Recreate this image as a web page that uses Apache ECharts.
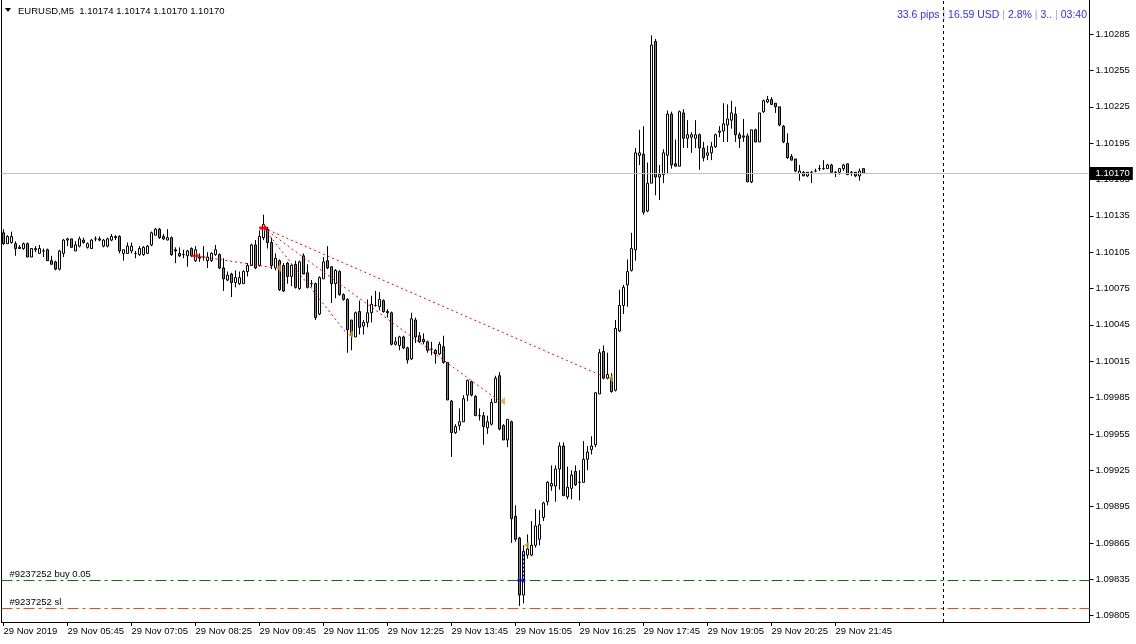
<!DOCTYPE html>
<html>
<head>
<meta charset="utf-8">
<script src="https://cdn.jsdelivr.net/npm/echarts@6/dist/echarts.min.js"></script>
<style>
html,body{margin:0;padding:0;background:#ffffff;}
#chart{width:1136px;height:644px;}
</style>
</head>
<body>
<div id="chart"></div>
<script>
// ---------------- DATA ----------------
const symbolTitle = 'EURUSD,M5';
const headerOHLC = ['1.10174', '1.10174', '1.10170', '1.10170'];
const infoParts = ['33.6 pips', '16.59 USD', '2.8%', '3..', '03:40'];

const firstBarTime = '04:25';
const barMinutes = 5;
const totalSlots = 272;

const xLabelBars = [0, 16, 32, 48, 64, 80, 96, 112, 128, 144, 160, 176, 192, 208];
const xLabelTexts = ['29 Nov 2019', '29 Nov 05:45', '29 Nov 07:05', '29 Nov 08:25', '29 Nov 09:45',
  '29 Nov 11:05', '29 Nov 12:25', '29 Nov 13:45', '29 Nov 15:05', '29 Nov 16:25', '29 Nov 17:45',
  '29 Nov 19:05', '29 Nov 20:25', '29 Nov 21:45'];

const yTicks = [1.09805, 1.09835, 1.09865, 1.09895, 1.09925, 1.09955, 1.09985, 1.10015, 1.10045,
  1.10075, 1.10105, 1.10135, 1.10165, 1.10195, 1.10225, 1.10255, 1.10285];
const yMin = 1.097997;
const yMax = 1.103132;

const open = [
1.10121,1.10112,1.10113,1.10112,1.10109,1.10108,1.10112,1.10101,1.10107,1.10104,
1.10106,1.10107,1.10098,1.10097,1.10091,1.10104,1.10115,1.10116,1.10106,1.10110,
1.10115,1.10109,1.10108,1.10116,1.10116,1.10110,1.10110,1.10115,1.10118,1.10118,
1.10104,1.10104,1.10106,1.10104,1.10103,1.10103,1.10104,1.10111,1.10119,1.10124,
1.10118,1.10115,1.10117,1.10107,1.10104,1.10103,1.10102,1.10108,1.10098,1.10101,
1.10101,1.10098,1.10098,1.10103,1.10103,1.10092,1.10082,1.10087,1.10080,1.10079,
1.10079,1.10089,1.10094,1.10111,1.10094,1.10117,1.10124,1.10113,1.10092,1.10098,
1.10094,1.10096,1.10085,1.10095,1.10075,1.10102,1.10088,1.10079,1.10079,1.10054,
1.10083,1.10098,1.10093,1.10079,1.10089,1.10070,1.10066,1.10049,1.10035,1.10056,
1.10044,1.10047,1.10055,1.10061,1.10060,1.10065,1.10056,1.10055,1.10029,1.10028,
1.10035,1.10026,1.10017,1.10049,1.10036,1.10033,1.10031,1.10025,1.10024,1.10021,
1.10027,1.10014,1.09982,1.09956,1.09962,1.09965,1.09987,1.09998,1.09986,1.09970,
1.09970,1.09960,1.09963,1.09981,1.10003,1.09962,1.09950,1.09965,1.09887,1.09869,
1.09822,1.09855,1.09855,1.09863,1.09868,1.09886,1.09899,1.09912,1.09912,1.09926,
1.09945,1.09903,1.09910,1.09924,1.09915,1.09915,1.09934,1.09942,1.09946,1.09988,
1.10023,1.10001,1.10001,1.09991,1.10040,1.10061,1.10078,1.10090,1.10107,1.10185,
1.10186,1.10139,1.10162,1.10279,1.10167,1.10169,1.10185,1.10219,1.10178,1.10176,
1.10220,1.10199,1.10200,1.10199,1.10202,1.10191,1.10185,1.10187,1.10192,1.10204,
1.10205,1.10210,1.10214,1.10219,1.10202,1.10201,1.10201,1.10163,1.10206,1.10196,
1.10221,1.10229,1.10231,1.10228,1.10225,1.10209,1.10195,1.10184,1.10182,1.10170,
1.10171,1.10168,1.10171,1.10172,1.10174,1.10174,1.10174,1.10177,1.10171,1.10171,
1.10174,1.10178,1.10171,1.10171,1.10168,1.10174];

const high = [
1.10124,1.10119,1.10122,1.10114,1.10111,1.10113,1.10113,1.10108,1.10110,1.10111,
1.10108,1.10108,1.10102,1.10098,1.10107,1.10116,1.10117,1.10116,1.10114,1.10118,
1.10117,1.10113,1.10116,1.10118,1.10118,1.10116,1.10117,1.10120,1.10119,1.10119,
1.10107,1.10113,1.10113,1.10106,1.10110,1.10110,1.10111,1.10122,1.10125,1.10125,
1.10120,1.10124,1.10118,1.10109,1.10109,1.10107,1.10107,1.10109,1.10110,1.10104,
1.10110,1.10105,1.10105,1.10111,1.10104,1.10100,1.10089,1.10088,1.10090,1.10089,
1.10090,1.10096,1.10112,1.10115,1.10123,1.10136,1.10126,1.10117,1.10104,1.10099,
1.10096,1.10097,1.10095,1.10098,1.10098,1.10104,1.10095,1.10082,1.10080,1.10085,
1.10101,1.10110,1.10093,1.10091,1.10090,1.10071,1.10067,1.10049,1.10056,1.10065,
1.10049,1.10066,1.10069,1.10073,1.10072,1.10066,1.10058,1.10056,1.10035,1.10036,
1.10036,1.10027,1.10055,1.10051,1.10039,1.10038,1.10032,1.10031,1.10025,1.10031,
1.10036,1.10014,1.09983,1.09963,1.09976,1.09987,1.10000,1.09999,1.09987,1.09976,
1.09973,1.09970,1.09984,1.10003,1.10006,1.09963,1.09967,1.09966,1.09896,1.09870,
1.09863,1.09872,1.09883,1.09893,1.09892,1.09899,1.09916,1.09929,1.09929,1.09948,
1.09948,1.09928,1.09925,1.09929,1.09925,1.09949,1.09945,1.09953,1.09989,1.10025,
1.10028,1.10022,1.10005,1.10049,1.10074,1.10078,1.10099,1.10121,1.10191,1.10206,
1.10209,1.10179,1.10284,1.10281,1.10177,1.10190,1.10222,1.10221,1.10198,1.10222,
1.10223,1.10214,1.10204,1.10214,1.10203,1.10196,1.10193,1.10196,1.10203,1.10209,
1.10228,1.10227,1.10230,1.10225,1.10204,1.10215,1.10203,1.10206,1.10207,1.10220,
1.10231,1.10234,1.10233,1.10228,1.10225,1.10210,1.10203,1.10186,1.10182,1.10177,
1.10172,1.10171,1.10172,1.10174,1.10177,1.10181,1.10178,1.10178,1.10172,1.10174,
1.10178,1.10178,1.10172,1.10171,1.10174,1.10174];

const low = [
1.10111,1.10112,1.10112,1.10102,1.10108,1.10107,1.10101,1.10101,1.10105,1.10104,
1.10101,1.10098,1.10095,1.10090,1.10090,1.10101,1.10110,1.10109,1.10106,1.10109,
1.10112,1.10108,1.10108,1.10114,1.10114,1.10109,1.10109,1.10114,1.10115,1.10104,
1.10098,1.10104,1.10104,1.10100,1.10102,1.10102,1.10104,1.10110,1.10119,1.10116,
1.10115,1.10115,1.10102,1.10096,1.10101,1.10100,1.10093,1.10101,1.10097,1.10097,
1.10098,1.10092,1.10097,1.10102,1.10091,1.10073,1.10081,1.10068,1.10076,1.10078,
1.10079,1.10085,1.10094,1.10091,1.10093,1.10115,1.10108,1.10091,1.10090,1.10073,
1.10072,1.10079,1.10077,1.10075,1.10074,1.10087,1.10075,1.10076,1.10049,1.10053,
1.10083,1.10091,1.10063,1.10067,1.10069,1.10065,1.10022,1.10024,1.10035,1.10037,
1.10037,1.10043,1.10047,1.10060,1.10057,1.10055,1.10051,1.10028,1.10028,1.10024,
1.10025,1.10013,1.10016,1.10030,1.10030,1.10029,1.10022,1.10020,1.10013,1.10020,
1.10013,1.09983,1.09936,1.09955,1.09958,1.09965,1.09982,1.09986,1.09970,1.09966,
1.09946,1.09955,1.09962,1.09981,1.09958,1.09950,1.09944,1.09865,1.09866,1.09813,
1.09815,1.09852,1.09854,1.09861,1.09863,1.09883,1.09896,1.09908,1.09899,1.09909,
1.09904,1.09901,1.09901,1.09912,1.09900,1.09915,1.09925,1.09938,1.09944,1.09988,
1.10000,1.10000,1.09989,1.09990,1.10039,1.10054,1.10060,1.10089,1.10098,1.10177,
1.10136,1.10138,1.10162,1.10152,1.10148,1.10162,1.10170,1.10174,1.10176,1.10176,
1.10191,1.10191,1.10187,1.10191,1.10173,1.10180,1.10181,1.10181,1.10191,1.10200,
1.10196,1.10196,1.10207,1.10196,1.10191,1.10196,1.10163,1.10162,1.10196,1.10196,
1.10220,1.10228,1.10227,1.10220,1.10209,1.10195,1.10182,1.10181,1.10171,1.10164,
1.10168,1.10167,1.10162,1.10171,1.10172,1.10173,1.10174,1.10171,1.10167,1.10169,
1.10172,1.10169,1.10168,1.10167,1.10164,1.10170];

const close = [
1.10112,1.10118,1.10118,1.10108,1.10108,1.10112,1.10101,1.10108,1.10108,1.10108,
1.10106,1.10098,1.10095,1.10091,1.10106,1.10115,1.10116,1.10109,1.10111,1.10116,
1.10113,1.10112,1.10115,1.10116,1.10115,1.10115,1.10116,1.10118,1.10117,1.10106,
1.10107,1.10110,1.10110,1.10104,1.10108,1.10109,1.10110,1.10121,1.10124,1.10117,
1.10116,1.10117,1.10103,1.10106,1.10102,1.10103,1.10106,1.10102,1.10107,1.10100,
1.10101,1.10101,1.10104,1.10107,1.10092,1.10083,1.10086,1.10080,1.10084,1.10084,
1.10089,1.10094,1.10111,1.10092,1.10118,1.10128,1.10113,1.10094,1.10100,1.10074,
1.10073,1.10085,1.10094,1.10076,1.10097,1.10087,1.10076,1.10079,1.10051,1.10084,
1.10097,1.10092,1.10079,1.10090,1.10070,1.10066,1.10041,1.10036,1.10055,1.10043,
1.10047,1.10055,1.10062,1.10061,1.10066,1.10056,1.10055,1.10029,1.10031,1.10035,
1.10026,1.10016,1.10050,1.10035,1.10031,1.10031,1.10024,1.10025,1.10021,1.10029,
1.10014,1.09983,1.09956,1.09961,1.09965,1.09984,1.09999,1.09987,1.09970,1.09970,
1.09961,1.09965,1.09981,1.10001,1.09959,1.09950,1.09967,1.09885,1.09868,1.09822,
1.09858,1.09860,1.09863,1.09879,1.09880,1.09898,1.09915,1.09914,1.09926,1.09945,
1.09904,1.09911,1.09921,1.09913,1.09915,1.09934,1.09940,1.09945,1.09989,1.10022,
1.10001,1.10004,1.09990,1.10042,1.10061,1.10076,1.10089,1.10108,1.10187,1.10187,
1.10138,1.10162,1.10276,1.10167,1.10169,1.10187,1.10219,1.10177,1.10176,1.10221,
1.10199,1.10202,1.10202,1.10202,1.10191,1.10183,1.10187,1.10192,1.10202,1.10205,
1.10211,1.10215,1.10220,1.10202,1.10199,1.10200,1.10163,1.10206,1.10196,1.10220,
1.10230,1.10231,1.10227,1.10225,1.10210,1.10196,1.10183,1.10181,1.10172,1.10172,
1.10168,1.10171,1.10171,1.10172,1.10174,1.10174,1.10177,1.10171,1.10171,1.10174,
1.10177,1.10169,1.10171,1.10168,1.10172,1.10170];

// closed trades: [openBar, openPrice, closeBar, closePrice]
const sellTrades = [
  [48, 1.10102, 68, 1.10092],
  [65, 1.10125, 86, 1.10037],
  [65, 1.10125, 124, 1.09982],
  [65, 1.10125, 151, 1.10001]
];
const buyTrades = [
  [130, 1.09834, 130, 1.09863]
];
const currentPrice = 1.10170;
const orderPrice = 1.09834;
const stopPrice = 1.09811;
const orderLabel = '#9237252 buy 0.05';
const stopLabel = '#9237252 sl';
const separatorBar = 235;

// ---------------- BUILD ----------------
const FONT = '"Liberation Sans", Arial, sans-serif';
const FS = 9.5;

const startMin = parseInt(firstBarTime.slice(0, 2)) * 60 + parseInt(firstBarTime.slice(3));
const categories = [];
for (let i = 0; i < totalSlots; i++) {
  const m = startMin + i * barMinutes;
  const hh = String(Math.floor(m / 60) % 24).padStart(2, '0');
  const mm = String(m % 60).padStart(2, '0');
  categories.push(hh + ':' + mm + '#' + i);
}
const labelMap = {};
xLabelBars.forEach((b, k) => { labelMap[b] = xLabelTexts[k]; });

const candleData = open.map((o, i) => [o, close[i], low[i], high[i]]);

const tradeSeries = [];
sellTrades.forEach(t => {
  tradeSeries.push({
    type: 'line', data: [[t[0], t[1]], [t[2], t[3]]], symbol: 'none', silent: true,
    lineStyle: { color: '#ff0000', width: 1, type: [2, 3] }, z: 5, animation: false
  });
});
buyTrades.forEach(t => {
  tradeSeries.push({
    type: 'line', data: [[t[0], t[1]], [t[2], t[3]]], symbol: 'none', silent: true,
    lineStyle: { color: '#0000ff', width: 1, type: [2, 2] }, z: 5, animation: false
  });
});

const arrowPath = 'path://M0,2.5 L4.5,2.5 L4.5,0 L8,4 L4.5,8 L4.5,5.5 L0,5.5 Z';
const triLeft = 'path://M0,4 L6,0 L6,8 Z';

const sellOpenPts = sellTrades.map(t => [t[0], t[1]]);
const buyOpenPts = buyTrades.map(t => [t[0], t[1]]);
const closePts = sellTrades.concat(buyTrades).map(t => [t[2], t[3]]);

const chart = echarts.init(document.getElementById('chart'), null, { renderer: 'canvas' });

const lineLabelBase = { show: true, position: 'insideStartTop', color: '#000', distance: [8, 1], fontSize: FS, fontFamily: FONT };

const option = {
  animation: false,
  backgroundColor: '#ffffff',
  grid: { left: 1.5, right: 46.5, top: 0, bottom: 22, containLabel: false },
  xAxis: {
    type: 'category',
    data: categories,
    boundaryGap: true,
    axisLine: { show: true, onZero: false, lineStyle: { color: '#000', width: 1 } },
    axisTick: {
      show: true, alignWithLabel: true, length: 4,
      interval: (idx) => labelMap[idx] !== undefined,
      lineStyle: { color: '#000' }
    },
    axisLabel: {
      show: true,
      interval: (idx) => labelMap[idx] !== undefined,
      formatter: (v, idx) => labelMap[idx] || '',
      align: 'left', padding: [0, 0, 0, 0], margin: 4,
      color: '#000', fontSize: FS, fontFamily: FONT
    },
    splitLine: { show: false }
  },
  yAxis: [{
    type: 'value',
    position: 'right',
    min: yMin, max: yMax,
    axisLine: { show: true, lineStyle: { color: '#000', width: 1 } },
    axisTick: { show: true, length: 4, customValues: yTicks, lineStyle: { color: '#000' } },
    axisLabel: {
      show: true, customValues: yTicks, formatter: (v) => v.toFixed(5),
      margin: 6, color: '#000', fontSize: FS, fontFamily: FONT
    },
    splitLine: { show: false }
  }, {
    type: 'value',
    position: 'left',
    min: yMin, max: yMax,
    axisLine: { show: true, lineStyle: { color: '#000', width: 1 } },
    axisTick: { show: false }, axisLabel: { show: false }, splitLine: { show: false }
  }],
  series: [
    {
      type: 'line', data: [], silent: true, z: 2, animation: false,
      markLine: {
        silent: true, symbol: ['none', 'none'], animation: false, precision: 6,
        data: [
          { yAxis: currentPrice, lineStyle: { color: '#c0c0c0', type: 'solid', width: 1 },
            label: { show: true, position: 'end', formatter: currentPrice.toFixed(5), color: '#fff',
              backgroundColor: '#000', padding: [2, 3, 1, 6], distance: 0, fontSize: FS, fontFamily: FONT } },
          { yAxis: orderPrice, lineStyle: { color: '#008000', type: [11, 4, 3, 4], width: 1 },
            label: Object.assign({ formatter: orderLabel }, lineLabelBase) },
          { yAxis: stopPrice, lineStyle: { color: '#ff4500', type: [11, 4, 3, 4], width: 1 },
            label: Object.assign({ formatter: stopLabel }, lineLabelBase) },
          { xAxis: separatorBar, lineStyle: { color: '#000', type: [3, 3], width: 1 },
            label: { show: false } }
        ]
      }
    },
    {
      type: 'candlestick',
      data: candleData,
      barWidth: 2,
      itemStyle: {
        color: '#ffffff', color0: '#808080',
        borderColor: '#000000', borderColor0: '#000000', borderColorDoji: '#000000',
        borderWidth: 1
      },
      z: 3
    },
    ...tradeSeries,
    {
      type: 'scatter', data: sellOpenPts, symbol: arrowPath, symbolSize: [8, 7],
      itemStyle: { color: '#ff0000' }, z: 6, silent: true, animation: false
    },
    {
      type: 'scatter', data: buyOpenPts, symbol: arrowPath, symbolSize: [8, 7], symbolOffset: [-2, 0],
      itemStyle: { color: '#0000ff' }, z: 7, silent: true, animation: false
    },
    {
      type: 'scatter', data: closePts, symbol: triLeft, symbolSize: [5, 8], symbolOffset: [3, 0],
      itemStyle: { color: '#daa520' }, z: 6, silent: true, animation: false
    }
  ],
  graphic: [
    { type: 'polygon', shape: { points: [[5, 8], [11, 8], [8, 12]] }, style: { fill: '#000' }, silent: true },
    { type: 'text', x: 18, y: 11, silent: true,
      style: { text: symbolTitle + '  ' + headerOHLC.join(' '), fill: '#000', fontSize: FS, fontFamily: FONT,
        verticalAlign: 'middle', align: 'left' } },
    { type: 'text', x: 1087, y: 15, silent: true,
      style: {
        text: infoParts.map(p => '{b|' + p + '}').join('{s| | }'),
        align: 'right', verticalAlign: 'middle', fontSize: 10.5, fontFamily: FONT,
        rich: {
          b: { fill: '#2f2fff', fontSize: 10.5, fontFamily: FONT },
          s: { fill: '#a898f8', fontSize: 10.5, fontFamily: FONT }
        }
      } }
  ]
};
chart.setOption(option);
</script>
</body>
</html>
